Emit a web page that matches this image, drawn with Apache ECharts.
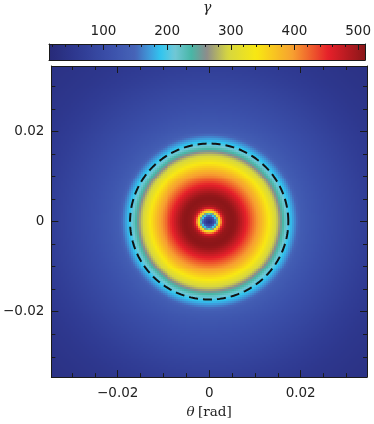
<!DOCTYPE html>
<html><head><meta charset="utf-8">
<script src="https://cdn.jsdelivr.net/npm/echarts@6/dist/echarts.min.js"></script>
<style>html,body{margin:0;padding:0;background:#fff}#c{width:374px;height:424px}</style>
</head><body><div id="c"></div>
<script>
// ---- data ----
// radial profile of gamma vs angle theta (rad)
const profileR = [0,0.0005,0.001,0.0015,0.002,0.0025,0.003,0.0035,0.004,0.005,0.0055,0.006,0.007,0.008,0.009,0.010,0.011,0.012,0.013,0.014,0.015,0.016,0.017,0.018,0.019,0.020,0.022,0.025,0.030,0.035,0.040,0.045,0.050];
const profileGamma = [40,60,100,175,280,390,460,492,505,510,508,502,480,455,432,410,390,365,340,310,280,240,205,180,155,135,122,108,88,68,52,42,36];
const axisMin = -0.0345, axisMax = 0.0345;
const thetaTickLabels = [-0.02, 0, 0.02];
const thetaMajorTicks = [-0.02, 0, 0.02];
const thetaMinorTicks = [-0.03,-0.025,-0.02,-0.015,-0.01,-0.005,0,0.005,0.01,0.015,0.02,0.025,0.03];
const ringRadius = 0.0173;
const gammaMin = 14.4, gammaMax = 511;
const colorbarLabels = [100,200,300,400,500];
const colorbarMinorTicks = [20,40,60,80,100,120,140,160,180,200,220,240,260,280,300,320,340,360,380,400,420,440,460,480,500];
// colormap stops (value, colour)
const cmapValues = [14.4,60,110,150,172,190,212,238,262,295,340,397,453,511];
const cmapColors = ['#272a78','#2f3a92','#3b50aa','#4664b8','#3f9ada','#30c6f0','#72c8d6','#48b6a6','#8c8c8c','#d6d640','#f8e812','#f7a030','#e6202a','#8a1618'];

// ---- helpers ----
function hex2rgb(h){return [parseInt(h.slice(1,3),16),parseInt(h.slice(3,5),16),parseInt(h.slice(5,7),16)];}
function cmap(v){
  if(v<=cmapValues[0])return cmapColors[0];
  for(let i=1;i<cmapValues.length;i++){
    if(v<=cmapValues[i]){
      const t=(v-cmapValues[i-1])/(cmapValues[i]-cmapValues[i-1]);
      const a=hex2rgb(cmapColors[i-1]),b=hex2rgb(cmapColors[i]);
      return 'rgb('+a.map((x,k)=>Math.round(x+(b[k]-x)*t)).join(',')+')';
    }
  }
  return cmapColors[cmapColors.length-1];
}
function profileAt(r){
  for(let i=1;i<profileR.length;i++){
    if(r<=profileR[i]){
      const t=(r-profileR[i-1])/(profileR[i]-profileR[i-1]);
      return profileGamma[i-1]+(profileGamma[i]-profileGamma[i-1])*t;
    }
  }
  return profileGamma[profileGamma.length-1];
}
const N = 159;
const cellSize = (axisMax-axisMin)/N;
const cellVal = i => axisMin+(i+0.5)*cellSize;
const heat = [];
for(let i=0;i<N;i++)for(let j=0;j<N;j++){
  const x=cellVal(i),y=cellVal(j);
  heat.push([x,y,profileAt(Math.sqrt(x*x+y*y))]);
}
const gradStops=[];
for(let k=0;k<=100;k++)gradStops.push({offset:k/100,color:cmap(gammaMin+(gammaMax-gammaMin)*k/100)});
const circle=[];
for(let k=0;k<=240;k++){const a=2*Math.PI*k/240;circle.push([ringRadius*Math.cos(a),ringRadius*Math.sin(a)]);}

const FONT='DejaVu Sans';
const lineC='#1a1a1a';
function valAxis(pos,opts){
  return Object.assign({
    type:'value',gridIndex:0,position:pos,min:axisMin,max:axisMax,z:10,
    splitLine:{show:false},
    axisLine:{show:true,onZero:false,lineStyle:{color:lineC,width:1}},
    axisLabel:{show:false},
    axisTick:{show:true,inside:true,length:7,lineStyle:{color:lineC,width:1},customValues:thetaMajorTicks}
  },opts);
}
const noLine={show:false,onZero:false};
const minorTick={show:true,inside:true,length:4,lineStyle:{color:lineC,width:1},customValues:thetaMinorTicks};
const labelStyle={show:true,color:'#222',fontFamily:FONT,fontSize:13.5,customValues:thetaTickLabels,
  formatter:v=>(Math.abs(v)<1e-9?'0':(v<0?'\u22120.02':'0.02'))};

const chart=echarts.init(document.getElementById('c'),null,{renderer:'canvas'});
chart.setOption({
  animation:false,
  grid:[
    {left:49,top:66,width:318,height:318},
    {left:49,top:39,width:319,height:21}
  ],
  xAxis:[
    valAxis('bottom',{axisLabel:Object.assign({},labelStyle,{margin:9}),
      name:'{t|\u03b8} {r|[rad]}',nameLocation:'middle',nameGap:26,
      nameTextStyle:{rich:{t:{fontFamily:'DejaVu Serif',fontStyle:'italic',fontSize:13.5,color:'#222'},r:{fontFamily:'DejaVu Serif',fontSize:13.5,color:'#222'}}}}),
    valAxis('bottom',{axisLine:noLine,axisTick:minorTick}),
    valAxis('top',{}),
    valAxis('top',{axisLine:noLine,axisTick:minorTick}),
    {type:'value',gridIndex:1,position:'top',min:gammaMin,max:gammaMax,z:10,splitLine:{show:false},
      axisLine:{show:true,onZero:false,lineStyle:{color:lineC}},
      axisTick:{show:true,inside:true,length:6,lineStyle:{color:lineC},customValues:colorbarLabels},
      axisLabel:{show:true,color:'#222',fontFamily:FONT,fontSize:13.5,margin:6,customValues:colorbarLabels},
      name:'\u03b3',nameLocation:'middle',nameGap:29,
      nameTextStyle:{fontFamily:'DejaVu Serif',fontStyle:'italic',fontSize:14,color:'#222'}},
    {type:'value',gridIndex:1,position:'top',min:gammaMin,max:gammaMax,z:10,splitLine:{show:false},
      axisLine:{show:false,onZero:false},axisLabel:{show:false},
      axisTick:{show:true,inside:true,length:3,lineStyle:{color:lineC},customValues:colorbarMinorTicks}},
    {type:'value',gridIndex:1,position:'bottom',min:gammaMin,max:gammaMax,z:10,splitLine:{show:false},
      axisLine:{show:true,onZero:false,lineStyle:{color:lineC}},axisLabel:{show:false},axisTick:{show:false}}
  ],
  yAxis:[
    valAxis('left',{axisLabel:Object.assign({},labelStyle,{margin:7})}),
    valAxis('left',{axisLine:noLine,axisTick:minorTick}),
    valAxis('right',{}),
    valAxis('right',{axisLine:noLine,axisTick:minorTick}),
    {type:'value',gridIndex:1,min:0,max:1,show:true,position:'left',z:10,splitLine:{show:false},
      axisLine:{show:true,onZero:false,lineStyle:{color:lineC}},axisLabel:{show:false},axisTick:{show:false}},
    {type:'value',gridIndex:1,min:0,max:1,show:true,position:'right',z:10,splitLine:{show:false},
      axisLine:{show:true,onZero:false,lineStyle:{color:lineC}},axisLabel:{show:false},axisTick:{show:false}}
  ],
  series:[
    {type:'custom',xAxisIndex:0,yAxisIndex:0,data:heat,silent:true,z:1,progressive:0,
      renderItem:(params,api)=>{
        const p=api.coord([api.value(0),api.value(1)]);
        const s=api.size([cellSize,cellSize]);
        const x0=Math.round(p[0]-s[0]/2),x1=Math.round(p[0]+s[0]/2);
        const y0=Math.round(p[1]-s[1]/2),y1=Math.round(p[1]+s[1]/2);
        return {type:'rect',shape:{x:x0,y:y0,width:x1-x0,height:y1-y0},style:{fill:cmap(api.value(2))}};
      }},
    {type:'line',xAxisIndex:0,yAxisIndex:0,data:circle,showSymbol:false,symbol:'none',silent:true,
      lineStyle:{color:'#111',width:2,type:[9,5]},z:5},
    {type:'custom',xAxisIndex:4,yAxisIndex:4,data:[[gammaMin,gammaMax]],silent:true,z:1,
      renderItem:(params,api)=>{
        const p0=api.coord([api.value(0),0]),p1=api.coord([api.value(1),1]);
        return {type:'rect',shape:{x:p0[0],y:p1[1],width:p1[0]-p0[0],height:p0[1]-p1[1]},
          style:{fill:new echarts.graphic.LinearGradient(0,0,1,0,gradStops)}};
      }}
  ]
});
</script></body></html>
